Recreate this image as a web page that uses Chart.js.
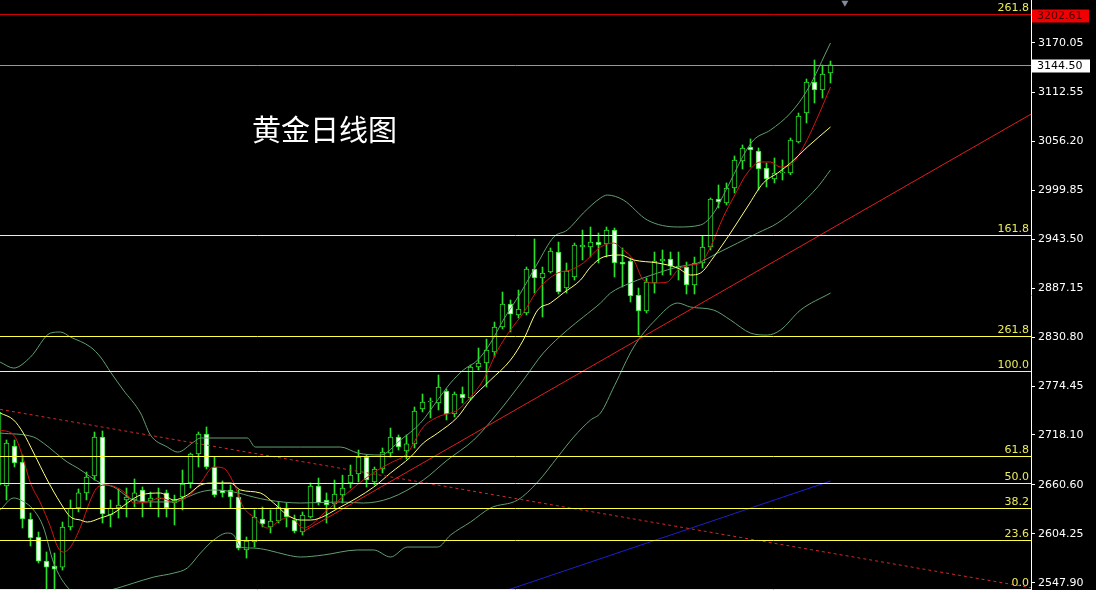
<!DOCTYPE html>
<html>
<head>
<meta charset="utf-8">
<script src="https://cdn.jsdelivr.net/npm/chart.js@4"></script>
<style>
  html, body { margin: 0; padding: 0; background: #000; }
  canvas { display: block; }
</style>
</head>
<body>
<canvas id="goldChart" width="1096" height="590"></canvas>
<script>
// daily candles, index of the first one (it is cut off at the left edge)
const firstIndex = -1;
const opens = [2660.5, 2659.3, 2705.4, 2687.0, 2621.3, 2600.6, 2572.7, 2567.1, 2565.9, 2612.1,
    2634.0, 2651.3, 2670.8, 2715.8, 2625.9, 2634.0, 2643.2, 2643.2, 2654.7, 2642.0,
    2644.3, 2651.3, 2639.7, 2646.6, 2662.8, 2696.2, 2719.2, 2681.2, 2654.7, 2654.7,
    2646.6, 2585.6, 2594.8, 2621.3, 2612.1, 2619.0, 2634.0, 2620.1, 2606.3, 2623.6,
    2659.3, 2643.2, 2638.6, 2648.9, 2662.8, 2673.1, 2692.7, 2663.9, 2678.9, 2697.3,
    2715.8, 2699.6, 2707.8, 2748.0, 2756.1, 2754.9, 2768.8, 2742.3, 2765.3, 2760.7,
    2796.4, 2801.0, 2813.7, 2842.5, 2869.0, 2856.3, 2858.6, 2909.3, 2898.9, 2905.8,
    2928.9, 2887.4, 2900.1, 2934.6, 2934.6, 2940.4, 2938.1, 2954.2, 2917.3, 2918.5,
    2879.3, 2860.9, 2893.2, 2918.5, 2920.8, 2910.4, 2911.6, 2890.9, 2916.2, 2934.6,
    2989.9, 2985.3, 3002.6, 3033.7, 3049.9, 3045.2, 3025.6, 3013.0, 3019.9, 3019.9,
    3055.6, 3089.0, 3124.7, 3115.5, 3135.1];
const highs = [2746.9, 2712.3, 2712.3, 2695.0, 2628.2, 2606.3, 2583.3, 2582.1, 2617.8, 2643.2,
    2655.9, 2675.4, 2721.5, 2722.7, 2643.2, 2655.9, 2657.0, 2667.4, 2658.2, 2652.4,
    2657.0, 2654.7, 2648.9, 2677.7, 2697.3, 2721.5, 2727.3, 2692.7, 2665.1, 2660.5,
    2654.7, 2600.6, 2631.7, 2635.1, 2631.7, 2640.9, 2639.7, 2625.9, 2629.4, 2662.8,
    2668.5, 2651.3, 2666.2, 2671.8, 2683.5, 2700.8, 2695.0, 2681.2, 2703.1, 2726.1,
    2718.1, 2718.1, 2750.3, 2765.3, 2760.7, 2787.2, 2771.1, 2767.6, 2773.4, 2798.7,
    2818.3, 2828.6, 2848.2, 2882.8, 2873.6, 2885.1, 2911.6, 2943.9, 2911.6, 2933.5,
    2940.4, 2916.2, 2939.2, 2954.2, 2957.7, 2950.8, 2957.7, 2956.5, 2933.5, 2921.9,
    2887.4, 2898.9, 2928.9, 2931.2, 2928.9, 2928.9, 2917.3, 2923.1, 2947.3, 2991.1,
    3006.1, 3008.4, 3039.5, 3052.2, 3059.1, 3048.7, 3031.4, 3037.2, 3034.9, 3060.2,
    3089.0, 3128.2, 3150.1, 3144.3, 3148.9];
const lows = [2657.0, 2643.2, 2681.2, 2610.9, 2590.2, 2570.6, 2540.0, 2540.0, 2562.5, 2608.6,
    2629.4, 2643.2, 2666.2, 2616.7, 2612.1, 2622.4, 2623.6, 2635.1, 2623.6, 2635.1,
    2623.6, 2623.6, 2614.4, 2631.7, 2657.0, 2681.2, 2678.9, 2646.6, 2646.6, 2634.0,
    2585.6, 2576.3, 2589.0, 2612.1, 2605.2, 2616.7, 2612.1, 2605.2, 2602.8, 2622.4,
    2637.4, 2616.7, 2634.0, 2639.7, 2657.0, 2663.9, 2658.2, 2660.5, 2674.3, 2692.7,
    2700.8, 2690.4, 2703.1, 2744.6, 2737.7, 2746.9, 2735.4, 2738.8, 2754.9, 2758.4,
    2792.9, 2773.4, 2807.9, 2840.2, 2836.7, 2852.8, 2856.3, 2881.6, 2854.0, 2904.7,
    2880.5, 2881.6, 2896.6, 2919.7, 2923.1, 2916.2, 2923.1, 2900.1, 2888.5, 2871.3,
    2833.3, 2858.6, 2881.6, 2902.4, 2902.4, 2896.6, 2880.5, 2880.5, 2910.4, 2931.2,
    2979.6, 2983.0, 2996.8, 3024.5, 3026.8, 3000.3, 3003.8, 3008.4, 3011.8, 3018.0,
    3054.4, 3077.5, 3100.5, 3106.3, 3123.6];
const closes = [2744.6, 2708.9, 2685.8, 2621.3, 2599.4, 2572.7, 2565.9, 2563.6, 2612.1, 2634.0,
    2651.3, 2669.7, 2715.8, 2627.1, 2634.0, 2637.4, 2646.6, 2651.3, 2640.9, 2645.5,
    2645.5, 2634.0, 2643.2, 2661.6, 2696.2, 2719.2, 2681.2, 2648.9, 2651.3, 2646.6,
    2587.8, 2595.9, 2623.6, 2615.5, 2619.0, 2635.1, 2623.6, 2607.4, 2625.9, 2659.3,
    2639.7, 2637.4, 2650.1, 2657.0, 2671.8, 2692.7, 2666.2, 2678.9, 2698.5, 2715.8,
    2704.3, 2707.8, 2745.7, 2756.1, 2757.2, 2773.4, 2742.3, 2765.3, 2760.7, 2796.4,
    2801.0, 2816.0, 2842.5, 2869.0, 2857.4, 2863.2, 2909.3, 2898.9, 2904.7, 2930.0,
    2882.8, 2907.0, 2936.9, 2936.9, 2940.4, 2936.9, 2954.2, 2916.2, 2915.0, 2878.2,
    2860.9, 2894.3, 2918.5, 2920.8, 2912.7, 2912.7, 2890.9, 2916.2, 2934.6, 2989.9,
    2986.5, 3002.6, 3034.9, 3048.7, 3046.4, 3024.5, 3013.0, 3019.9, 3021.0, 3057.9,
    3085.6, 3124.7, 3115.5, 3133.9, 3144.5];

// indicator lines: [candle index, price]
const upperBand = [[-0.8, 2802.1], [0.9, 2795.2], [3.0, 2807.9], [5.5, 2835.5], [6.75, 2836.7],
    [8.0, 2830.9], [10.5, 2819.4], [11.75, 2807.9], [13.0, 2790.6], [14.6, 2769.9],
    [16.75, 2743.4], [18.0, 2718.0], [20.1, 2704.2], [21.4, 2698.4], [23.4, 2710.0],
    [24.25, 2714.6], [30.1, 2714.6], [31.1, 2704.2], [36.75, 2704.2], [41.75, 2704.2],
    [43.9, 2697.3], [46.75, 2695.0], [49.25, 2712.3], [51.75, 2731.9], [53.9, 2758.4],
    [55.5, 2777.9], [57.1, 2792.9], [58.9, 2804.4], [60.5, 2824.0], [62.1, 2850.5],
    [64.25, 2881.6], [66.4, 2916.2], [68.4, 2946.1], [70.1, 2954.2], [72.1, 2973.8],
    [74.25, 2991.1], [75.1, 2994.5], [77.1, 2988.8], [80.1, 2965.7], [83.9, 2957.7],
    [86.75, 2960.0], [88.4, 2973.8], [89.6, 2994.0], [90.9, 3018.0], [92.1, 3040.0],
    [93.4, 3058.0], [95.5, 3069.4], [98.0, 3089.0], [100.1, 3115.5], [103.0, 3169.7]];
const middleBand = [[-0.8, 2720.3], [3.4, 2715.7], [4.6, 2708.8], [7.6, 2686.9], [8.9, 2680.0],
    [11.75, 2662.7], [13.4, 2658.1], [15.9, 2643.2], [18.4, 2640.9], [20.9, 2640.9],
    [22.6, 2646.6], [24.25, 2652.4], [25.9, 2654.7], [28.4, 2652.4], [30.9, 2646.6],
    [32.6, 2643.2], [36.75, 2639.7], [41.75, 2640.9], [44.6, 2639.7], [48.0, 2645.5],
    [52.1, 2666.2], [55.1, 2689.2], [58.4, 2712.3], [61.4, 2743.4], [64.6, 2781.4],
    [67.1, 2812.5], [70.1, 2839.0], [72.1, 2854.0], [74.25, 2870.1], [75.5, 2881.6],
    [78.0, 2893.2], [81.4, 2904.7], [83.9, 2911.6], [86.4, 2916.2], [88.9, 2927.7],
    [91.4, 2939.2], [93.9, 2950.8], [96.4, 2962.3], [98.9, 2980.7], [101.4, 3003.8],
    [103.0, 3023.3]];
const lowerBand = [[-0.8, 2631.6], [0.9, 2645.5], [1.75, 2643.2], [3.4, 2631.6], [4.6, 2612.1],
    [5.9, 2570.6], [7.6, 2542.9], [9.25, 2533.7], [13.0, 2539.5], [15.9, 2547.5],
    [18.4, 2554.4], [20.9, 2559.0], [22.6, 2564.8], [24.25, 2582.1], [25.9, 2597.1],
    [27.6, 2605.1], [28.4, 2602.8], [29.25, 2589.0], [30.9, 2587.8], [32.6, 2585.6],
    [35.1, 2579.8], [36.75, 2577.5], [39.6, 2579.8], [43.9, 2585.6], [45.9, 2585.6],
    [48.0, 2577.5], [50.1, 2589.0], [53.9, 2589.0], [55.5, 2602.8], [58.0, 2617.8],
    [60.5, 2634.0], [63.9, 2643.2], [66.4, 2663.9], [68.9, 2692.7], [70.9, 2715.7],
    [73.0, 2735.3], [74.25, 2743.4], [76.0, 2775.0], [78.4, 2819.4], [81.1, 2850.5],
    [83.9, 2870.1], [85.5, 2865.5], [88.4, 2862.0], [90.5, 2850.5], [93.0, 2835.5],
    [95.1, 2833.2], [96.75, 2839.0], [99.25, 2862.0], [103.0, 2881.6]];
const redMA = [[-0.8, 2723.8], [0.9, 2718.0], [1.75, 2700.8], [3.0, 2662.7], [4.25, 2639.7],
    [5.5, 2612.1], [6.4, 2589.0], [7.1, 2583.2], [8.0, 2589.0], [9.25, 2612.1],
    [10.5, 2643.2], [11.4, 2658.1], [12.6, 2660.4], [13.9, 2657.0], [15.1, 2648.9],
    [15.9, 2639.7], [17.6, 2640.9], [19.25, 2645.5], [20.9, 2640.9], [22.6, 2646.6],
    [24.25, 2662.7], [25.9, 2681.2], [27.1, 2680.0], [28.4, 2662.7], [29.6, 2635.1],
    [30.9, 2623.6], [32.6, 2610.9], [34.25, 2620.1], [35.5, 2623.6], [37.1, 2610.9],
    [40.1, 2631.6], [42.6, 2651.2], [44.6, 2666.2], [46.4, 2677.7], [48.0, 2685.8],
    [50.1, 2697.3], [52.1, 2727.3], [53.9, 2738.8], [56.4, 2746.9], [58.0, 2761.8],
    [59.6, 2781.4], [61.4, 2816.0], [63.0, 2839.0], [64.6, 2858.6], [66.4, 2885.1],
    [68.9, 2904.7], [70.5, 2908.1], [72.1, 2916.2], [74.25, 2934.6], [75.9, 2939.2],
    [77.1, 2931.2], [78.4, 2919.7], [79.6, 2896.6], [80.9, 2893.2], [82.6, 2894.3],
    [83.9, 2908.1], [85.5, 2913.9], [86.75, 2916.2], [88.0, 2934.6], [89.6, 2969.2],
    [90.9, 2992.2], [92.6, 3019.9], [94.25, 3032.6], [95.5, 3032.6], [96.75, 3026.8],
    [98.0, 3029.1], [99.6, 3049.8], [101.4, 3084.4], [103.0, 3119.0]];
const yellowMA = [[-0.8, 2743.4], [0.9, 2735.3], [2.1, 2720.3], [3.4, 2697.3], [5.1, 2666.2],
    [6.75, 2639.7], [8.0, 2623.6], [9.25, 2620.1], [10.1, 2617.8], [11.75, 2622.4],
    [13.4, 2628.2], [15.1, 2639.7], [16.75, 2648.9], [19.25, 2651.2], [20.9, 2643.2],
    [22.6, 2648.9], [24.25, 2660.4], [25.9, 2662.7], [28.0, 2662.7], [29.25, 2654.7],
    [31.75, 2651.2], [33.4, 2639.7], [35.1, 2625.9], [36.75, 2620.1], [38.0, 2620.1],
    [41.75, 2635.1], [45.9, 2658.1], [48.0, 2674.3], [50.5, 2692.7], [52.1, 2708.8],
    [53.9, 2720.3], [56.4, 2738.8], [58.0, 2758.4], [60.5, 2781.4], [63.0, 2804.4],
    [64.6, 2827.5], [66.4, 2862.0], [68.0, 2870.1], [69.6, 2881.6], [71.75, 2896.6],
    [73.0, 2911.6], [74.6, 2923.1], [76.75, 2925.4], [78.4, 2919.7], [81.4, 2916.2],
    [83.9, 2910.4], [85.5, 2902.4], [86.75, 2904.7], [88.4, 2923.1], [90.5, 2950.8],
    [92.6, 2980.7], [94.6, 3008.4], [96.4, 3019.9], [98.0, 3031.4], [100.1, 3049.8],
    [103.0, 3072.9]];

// trend lines, end points as [candle index, price]
const redTrend = [[37.0, 2606.3], [128.1, 3087.9]];
const dashedTrend = [[-0.8, 2747.6], [128.1, 2542.1]];
const blueTrend = [[62.0, 2537.5], [103.0, 2665.0]];

// horizontal levels
const fibPrices = [2948.1, 2832.1, 2791.8, 2693.8, 2663.1, 2633.6, 2597.1, 2540.6];
const fibLabels = ['161.8', '261.8', '100.0', '61.8', '50.0', '38.2', '23.6', '0.0'];
const topLevel = 3202.61;
const topLevelLabel = '261.8';
const lastPrice = 3144.50;
const tickValues = [3170.05, 3112.55, 3056.20, 2999.85, 2943.50, 2887.15,
    2830.80, 2774.45, 2718.10, 2660.60, 2604.25, 2547.90];
const titleText = '黄金日线图';

const GREEN = 'rgb(40,225,40)';
const BAND = 'rgb(98,158,112)';

const idx = opens.map((v, i) => firstIndex + i);
const pts = arr => arr.map(p => ({x: p[0], y: p[1]}));

const overlay = {
    id: 'overlay',
    afterDatasetsDraw(chart) {
        const {ctx, chartArea: a, scales: {y}} = chart;
        ctx.save();
        ctx.lineWidth = 1;
        const hline = (price, color) => {
            const py = Math.round(y.getPixelForValue(price)) + 0.5;
            ctx.strokeStyle = color;
            ctx.beginPath();
            ctx.moveTo(a.left, py);
            ctx.lineTo(a.right, py);
            ctx.stroke();
            return py;
        };
        ctx.font = '11px "DejaVu Sans"';
        ctx.textAlign = 'right';
        ctx.textBaseline = 'bottom';
        fibPrices.forEach((p, i) => {
            const py = hline(p, 'rgb(255,255,70)');
            ctx.fillStyle = 'rgb(235,235,90)';
            ctx.fillText(fibLabels[i], a.right - 2, py - 1);
        });
        let py = hline(topLevel, 'rgb(210,0,0)');
        ctx.fillStyle = 'rgb(235,235,90)';
        ctx.fillText(topLevelLabel, a.right - 2, py - 1);

        // price boxes on the axis
        ctx.textAlign = 'left';
        ctx.textBaseline = 'middle';
        ctx.fillStyle = 'rgb(240,0,0)';
        ctx.fillRect(a.right + 1, py - 5, 57, 13);
        ctx.fillStyle = 'rgb(70,0,0)';
        ctx.fillText(topLevel.toFixed(2), a.right + 6, py + 2);

        py = hline(lastPrice, 'rgb(150,150,170)');
        ctx.fillStyle = '#fff';
        ctx.fillRect(a.right + 1, py - 6, 58, 13);
        ctx.fillStyle = '#000';
        ctx.fillText(lastPrice.toFixed(2), a.right + 6, py + 1);

        ctx.font = '29px "Noto Sans CJK SC"';
        ctx.fillStyle = '#fff';
        ctx.fillText(titleText, 252, 130);
        ctx.restore();
    }
};

const ctx = document.getElementById('goldChart').getContext('2d');
const goldChart = new Chart(ctx, {
    type: 'bar',
    data: {
        datasets: [
            {
                type: 'line', data: pts(upperBand), borderColor: BAND, borderWidth: 1,
                pointRadius: 0, cubicInterpolationMode: 'monotone', order: 3
            },
            {
                type: 'line', data: pts(middleBand), borderColor: BAND, borderWidth: 1,
                pointRadius: 0, cubicInterpolationMode: 'monotone', order: 3
            },
            {
                type: 'line', data: pts(lowerBand), borderColor: BAND, borderWidth: 1,
                pointRadius: 0, cubicInterpolationMode: 'monotone', order: 3
            },
            {
                type: 'line', data: pts(yellowMA), borderColor: 'rgb(255,255,120)', borderWidth: 1,
                pointRadius: 0, cubicInterpolationMode: 'monotone', order: 2
            },
            {
                type: 'line', data: pts(redMA), borderColor: 'rgb(215,20,20)', borderWidth: 1,
                pointRadius: 0, cubicInterpolationMode: 'monotone', order: 2
            },
            {
                type: 'line', data: pts(redTrend), borderColor: 'rgb(225,30,30)', borderWidth: 1,
                pointRadius: 0, order: 1
            },
            {
                type: 'line', data: pts(dashedTrend), borderColor: 'rgb(210,40,40)', borderWidth: 1,
                borderDash: [3, 3], pointRadius: 0, order: 1
            },
            {
                type: 'line', data: pts(blueTrend), borderColor: 'rgb(30,30,210)', borderWidth: 1,
                pointRadius: 0, order: 1
            },
            {
                // wicks
                data: idx.map((k, i) => ({x: k, y: [lows[i], highs[i]]})),
                backgroundColor: GREEN, borderWidth: 0, barThickness: 1,
                grouped: false, order: 6
            },
            {
                // bodies: hollow when up, white when down
                data: idx.map((k, i) => ({x: k, y: [opens[i], closes[i]]})),
                backgroundColor: closes.map((c, i) => c >= opens[i] ? '#000' : '#fff'),
                borderColor: GREEN, borderWidth: 1, borderSkipped: false,
                barThickness: 5, grouped: false, order: 5
            },
            {
                type: 'scatter', data: [{x: 104.8, y: 3216}], pointStyle: 'triangle',
                rotation: 180, radius: 4, backgroundColor: 'rgb(130,140,160)',
                borderWidth: 0, order: 0
            }
        ]
    },
    options: {
        responsive: false,
        animation: false,
        devicePixelRatio: 1,
        layout: { padding: 0, autoPadding: false },
        plugins: { legend: { display: false }, tooltip: { enabled: false } },
        scales: {
            x: {
                type: 'linear', min: -0.8125, max: 128.0625, offset: false, display: false
            },
            y: {
                position: 'right',
                min: 2539.5,
                max: 3219.2,
                afterBuildTicks: scale => { scale.ticks = tickValues.map(v => ({value: v})); },
                afterFit: scale => { scale.width = 65; scale.paddingTop = 0; scale.paddingBottom = 0; },
                grid: { drawOnChartArea: false, color: '#fff', tickLength: 4 },
                border: { color: '#fff' },
                ticks: {
                    color: '#fff',
                    padding: 3,
                    font: { family: 'DejaVu Sans', size: 11 },
                    callback: v => v.toFixed(2)
                }
            }
        }
    },
    plugins: [overlay]
});
</script>
</body>
</html>
